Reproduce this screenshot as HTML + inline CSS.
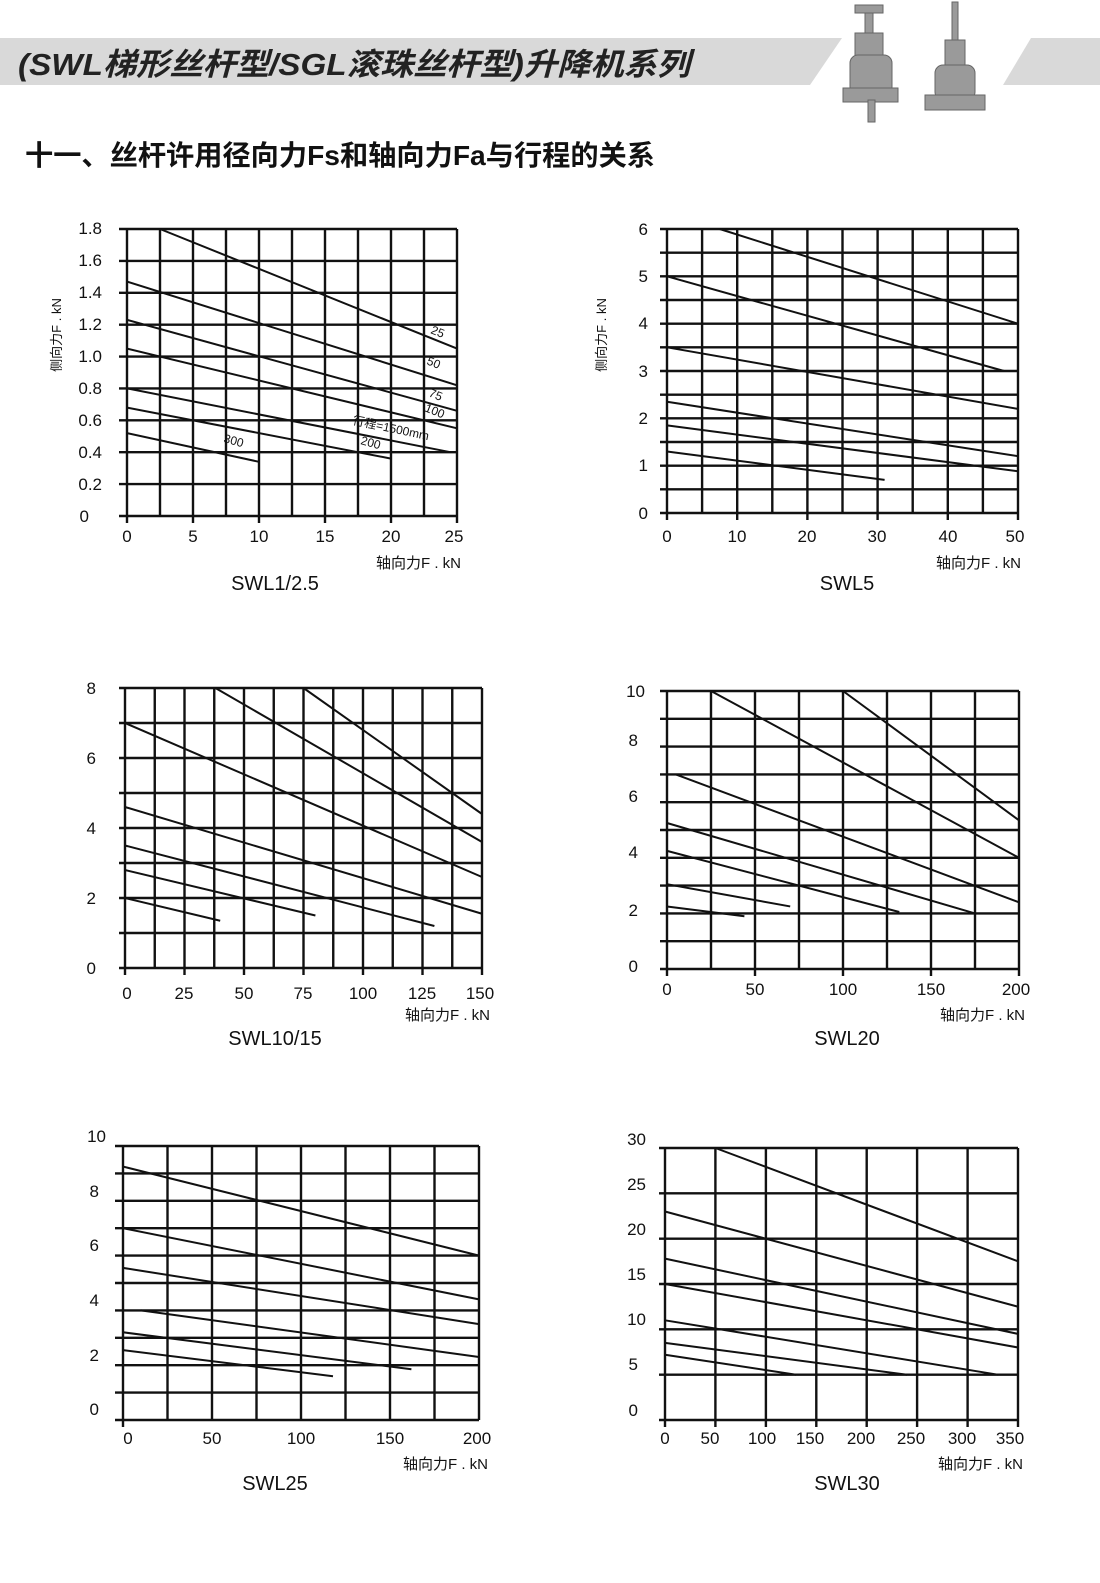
<!DOCTYPE html>
<html><head><meta charset="utf-8"><style>
html,body{margin:0;padding:0;background:#fff}
svg{display:block}
text{font-family:"Liberation Sans","Noto Sans CJK SC",sans-serif;fill:#111}
.g{stroke:#111;stroke-width:2.4;fill:none}
.c{stroke:#111;stroke-width:2;fill:none}
.yl{font-size:17px;text-anchor:end}
.xl{font-size:17px;text-anchor:middle}
.al{font-size:15px;text-anchor:end}
.tt{font-size:20px;text-anchor:middle}
.sm{font-size:12px}
</style></head><body>
<svg width="1100" height="1583" viewBox="0 0 1100 1583" xmlns="http://www.w3.org/2000/svg">
<!-- header -->
<polygon points="0,38 842,38 810,85 0,85" fill="#d9d9d9"/>
<polygon points="1031,38 1100,38 1100,85 1003,85" fill="#d9d9d9"/>
<text x="18" y="75" style="font-size:31px;font-style:italic;font-weight:bold;fill:#222" textLength="672" lengthAdjust="spacingAndGlyphs">(SWL梯形丝杆型/SGL滚珠丝杆型)升降机系列</text>
<!-- product sketches -->
<g fill="#9a9a9a" stroke="#666" stroke-width="1">
<rect x="855" y="5" width="28" height="8"/><rect x="865" y="13" width="8" height="20"/>
<rect x="855" y="33" width="28" height="40"/><rect x="850" y="55" width="42" height="40" rx="8"/>
<rect x="843" y="88" width="55" height="14"/><rect x="868" y="100" width="7" height="22"/>
<rect x="952" y="2" width="6" height="40"/><rect x="945" y="40" width="20" height="30"/>
<rect x="935" y="65" width="40" height="35" rx="8"/><rect x="925" y="95" width="60" height="15"/>
</g>
<text x="25" y="165" style="font-size:28px;font-weight:bold;fill:#111" textLength="630" lengthAdjust="spacingAndGlyphs">十一、丝杆许用径向力Fs和轴向力Fa与行程的关系</text>

<!-- Chart 1 -->
<g class="g">
<path d="M127,229V523M160,229V516M193,229V523M226,229V516M259,229V523M292,229V516M325,229V523M358,229V516M391,229V523M424,229V516M457,229V523"/>
<path d="M119,516H457M119,484.1H457M119,452.2H457M119,420.3H457M119,388.4H457M119,356.6H457M119,324.7H457M119,292.8H457M119,260.9H457M119,229H457"/>
</g>
<g class="c">
<path d="M160,229L457,348.6M127,281.6L457,385.3M127,319.9L457,410.8M127,348.6L457,428.3M127,388.4L450.4,452.2M127,407.6L391,458.6M127,433.1L259,461.8"/>
</g>
<text class="sm" transform="translate(430,333) rotate(22)">25</text>
<text class="sm" transform="translate(426,364) rotate(22)">50</text>
<text class="sm" transform="translate(428,396) rotate(22)">75</text>
<text class="sm" transform="translate(424,411) rotate(22)">100</text>
<text class="sm" transform="translate(352,424) rotate(12)">行程=1500mm</text>
<text class="sm" transform="translate(360,444) rotate(15)">200</text>
<text class="sm" transform="translate(223,442) rotate(15)">300</text>
<g class="yl"><text x="102" y="234">1.8</text><text x="102" y="266">1.6</text><text x="102" y="298">1.4</text><text x="102" y="330">1.2</text><text x="102" y="362">1.0</text><text x="102" y="394">0.8</text><text x="102" y="426">0.6</text><text x="102" y="458">0.4</text><text x="102" y="490">0.2</text><text x="89" y="522">0</text></g>
<g class="xl"><text x="127" y="542">0</text><text x="193" y="542">5</text><text x="259" y="542">10</text><text x="325" y="542">15</text><text x="391" y="542">20</text><text x="454" y="542">25</text></g>
<text class="al" x="461" y="568">轴向力F . kN</text>
<text class="tt" x="275" y="590">SWL1/2.5</text>
<text style="font-size:13px;text-anchor:middle" transform="translate(61,335) rotate(-90)">侧向力F . kN</text>

<!-- Chart 2 -->
<g class="g">
<path d="M667,229V520M702.1,229V513M737.2,229V520M772.3,229V513M807.4,229V520M842.5,229V513M877.6,229V520M912.7,229V513M947.8,229V520M982.9,229V513M1018,229V520"/>
<path d="M660,513H1018M660,489.3H1018M660,465.7H1018M660,442H1018M660,418.3H1018M660,394.7H1018M660,371H1018M660,347.3H1018M660,323.7H1018M660,300H1018M660,276.3H1018M660,252.7H1018M660,229H1018"/>
</g>
<g class="c"><path d="M719.7,229L1018,323.7M667,276.3L1004,371M667,347.3L1018,408.9M667,401.8L1018,456.2M667,425.4L1018,471.3M667,451.5L884.6,479.9"/></g>
<g class="yl"><text x="648" y="235">6</text><text x="648" y="282">5</text><text x="648" y="329">4</text><text x="648" y="377">3</text><text x="648" y="424">2</text><text x="648" y="471">1</text><text x="648" y="519">0</text></g>
<g class="xl"><text x="667" y="542">0</text><text x="737" y="542">10</text><text x="807" y="542">20</text><text x="877" y="542">30</text><text x="948" y="542">40</text><text x="1015" y="542">50</text></g>
<text class="al" x="1021" y="568">轴向力F . kN</text>
<text class="tt" x="847" y="590">SWL5</text>
<text style="font-size:13px;text-anchor:middle" transform="translate(606,335) rotate(-90)">侧向力F . kN</text>

<!-- Chart 3 -->
<g class="g">
<path d="M125,688V975M154.75,688V968M184.5,688V975M214.25,688V968M244,688V975M273.75,688V968M303.5,688V975M333.25,688V968M363,688V975M392.75,688V968M422.5,688V975M452.25,688V968M482,688V975"/>
<path d="M119,968H482M119,933H482M119,898H482M119,863H482M119,828H482M119,793H482M119,758H482M119,723H482M119,688H482"/>
</g>
<g class="c"><path d="M215.4,688L482,842M303.5,688L482,814M125,723L482,877M125,807L482,913.75M125,845.5L434.4,926M125,870L315.4,915.5M125,898L220.2,920.75"/></g>
<g class="yl"><text x="96" y="694">8</text><text x="96" y="764">6</text><text x="96" y="834">4</text><text x="96" y="904">2</text><text x="96" y="974">0</text></g>
<g class="xl"><text x="127" y="999">0</text><text x="184" y="999">25</text><text x="244" y="999">50</text><text x="303" y="999">75</text><text x="363" y="999">100</text><text x="422" y="999">125</text><text x="480" y="999">150</text></g>
<text class="al" x="490" y="1020">轴向力F . kN</text>
<text class="tt" x="275" y="1045">SWL10/15</text>

<!-- Chart 4 -->
<g class="g">
<path d="M667,691V976M711,691V969M755,691V976M799,691V969M843,691V976M887,691V969M931,691V976M975,691V969M1019,691V976"/>
<path d="M660,969H1019M660,941.2H1019M660,913.4H1019M660,885.6H1019M660,857.8H1019M660,830H1019M660,802.2H1019M660,774.4H1019M660,746.6H1019M660,718.8H1019M660,691H1019"/>
</g>
<g class="c"><path d="M711,691L1019,857.8M843,691L1019,820.3M675.8,774.4L1019,902.3M667,823L975,913.4M667,850.85L899.3,912M667,884.2L790.2,906.45M667,906.45L744.4,916.2"/></g>
<g class="yl"><text x="645" y="697">10</text><text x="638" y="746">8</text><text x="638" y="802">6</text><text x="638" y="858">4</text><text x="638" y="916">2</text><text x="638" y="972">0</text></g>
<g class="xl"><text x="667" y="995">0</text><text x="755" y="995">50</text><text x="843" y="995">100</text><text x="931" y="995">150</text><text x="1016" y="995">200</text></g>
<text class="al" x="1025" y="1020">轴向力F . kN</text>
<text class="tt" x="847" y="1045">SWL20</text>

<!-- Chart 5 -->
<g class="g">
<path d="M123,1146V1427M167.5,1146V1420M212,1146V1420M256.5,1146V1420M301,1146V1420M345.5,1146V1420M390,1146V1420M434.5,1146V1420M479,1146V1420"/>
<path d="M115,1420H479M115,1392.6H479M115,1365.2H479M115,1337.8H479M115,1310.4H479M115,1283H479M115,1255.6H479M115,1228.2H479M115,1200.8H479M115,1173.4H479M115,1146H479"/>
</g>
<g class="c"><path d="M123,1166.55L479,1255.6M123,1228.2L479,1299.4M123,1267.9L479,1324.1M140.8,1310.4L479,1357M123,1332.3L411.4,1369.3M123,1350.1L333,1376.2"/></g>
<g class="yl"><text x="106" y="1142">10</text><text x="99" y="1197">8</text><text x="99" y="1251">6</text><text x="99" y="1306">4</text><text x="99" y="1361">2</text><text x="99" y="1415">0</text></g>
<g class="xl"><text x="128" y="1444">0</text><text x="212" y="1444">50</text><text x="301" y="1444">100</text><text x="390" y="1444">150</text><text x="477" y="1444">200</text></g>
<text class="al" x="488" y="1469">轴向力F . kN</text>
<text class="tt" x="275" y="1490">SWL25</text>

<!-- Chart 6 -->
<g class="g">
<path d="M665,1148V1427M715.4,1148V1427M765.9,1148V1427M816.3,1148V1427M866.7,1148V1427M917.1,1148V1427M967.6,1148V1427M1018,1148V1427"/>
<path d="M659,1420H1018M659,1374.7H1018M659,1329.3H1018M659,1284H1018M659,1238.7H1018M659,1193.3H1018M659,1148H1018"/>
</g>
<g class="c"><path d="M715.4,1148L1018,1261.3M665,1211.5L1018,1306.7M665,1258.6L1018,1333.9M665,1284L1018,1347.5M665,1320.3L997.8,1374.7M665,1342.9L907.1,1374.7M665,1354.7L796.1,1374.7"/></g>
<g class="yl"><text x="646" y="1145">30</text><text x="646" y="1190">25</text><text x="646" y="1235">20</text><text x="646" y="1280">15</text><text x="646" y="1325">10</text><text x="638" y="1370">5</text><text x="638" y="1416">0</text></g>
<g class="xl"><text x="665" y="1444">0</text><text x="710" y="1444">50</text><text x="762" y="1444">100</text><text x="810" y="1444">150</text><text x="861" y="1444">200</text><text x="911" y="1444">250</text><text x="962" y="1444">300</text><text x="1010" y="1444">350</text></g>
<text class="al" x="1023" y="1469">轴向力F . kN</text>
<text class="tt" x="847" y="1490">SWL30</text>
</svg>
</body></html>
